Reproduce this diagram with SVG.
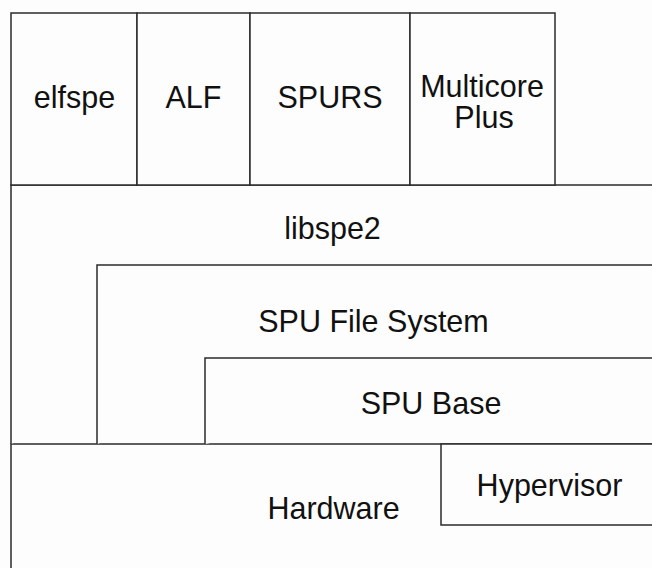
<svg xmlns="http://www.w3.org/2000/svg" width="652" height="568" viewBox="0 0 652 568">
<style>
.b{fill:#fdfdfd;stroke:#2b2b2b;stroke-width:1.5}
.t{font-family:"Liberation Sans",Arial,sans-serif;font-size:30.5px;fill:#111;text-anchor:middle}
</style>
<rect x="0" y="0" width="652" height="568" fill="#fdfdfd"/>
<g id="hardware"><path class="b" d="M11 580 V444 H670 V580"/><text class="t" x="333.5" y="519">Hardware</text></g>
<g id="hypervisor"><path class="b" d="M670 444 H441 V525 H670"/><text class="t" x="549.5" y="496">Hypervisor</text></g>
<g id="libspe2"><path class="b" d="M11 444 V185 H670"/><text class="t" x="332.5" y="239">libspe2</text></g>
<g id="spufs"><path class="b" d="M97 444 V265 H670"/><text class="t" x="373.5" y="332">SPU File System</text></g>
<g id="spubase"><path class="b" d="M205 444 V358 H670"/><text class="t" x="431" y="414">SPU Base</text></g>
<g id="elfspe"><rect class="b" x="11" y="13" width="126" height="172"/><text class="t" x="74.5" y="108">elfspe</text></g>
<g id="alf"><rect class="b" x="137" y="13" width="113" height="172"/><text class="t" x="193.5" y="108">ALF</text></g>
<g id="spurs"><rect class="b" x="250" y="13" width="160" height="172"/><text class="t" x="330" y="108">SPURS</text></g>
<g id="multicore"><rect class="b" x="410" y="13" width="145" height="172"/><text class="t" x="482" y="97">Multicore</text><text class="t" x="484" y="128">Plus</text></g>
<g id="connectors"/>
</svg>
